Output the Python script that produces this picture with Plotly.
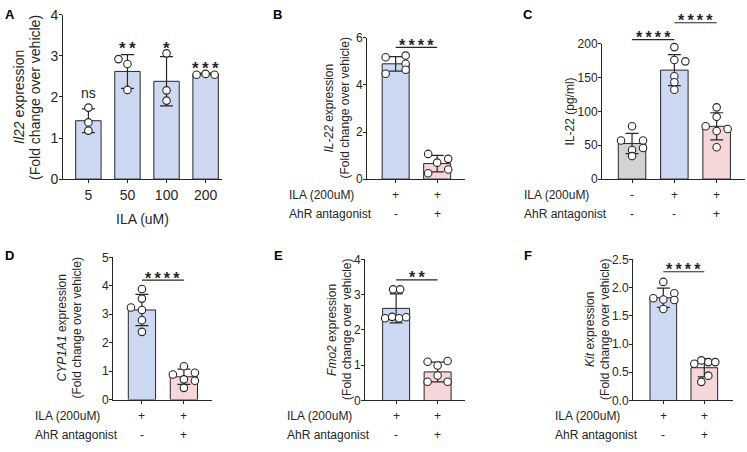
import plotly.graph_objects as go

W, H = 747, 452
FONT = "Liberation Sans, Arial, Helvetica, sans-serif"
INK = "#262626"
BLUE = "#cdd9f3"
PINK = "#f7d6da"
GREY = "#d3d3d3"

# ---------------- data ----------------
A_doses = ["5", "50", "100", "200"]
A_mean = [1.42, 2.62, 2.38, 2.56]
A_sd = [0.29, 0.41, 0.60, 0.02]
A_pts = [[1.74, 1.38, 1.18], [2.92, 2.80, 2.17], [3.06, 2.16, 1.91], [2.54, 2.56, 2.54]]
A_sig = ["ns", "**", "*", "***"]

B_mean = [4.90, 0.66]
B_sd = [0.31, 0.35]
B_pts = [[5.18, 5.25, 4.90, 4.48, 4.65], [1.07, 0.70, 0.86, 0.25, 0.41]]

C_mean = [52.5, 161.0, 78.0]
C_sd = [15.0, 23.0, 20.0]
C_pts = [[78, 57, 57, 46, 43, 34], [195, 176, 174, 152, 143, 132], [106, 92, 78, 74, 71, 47]]

D_mean = [3.15, 0.80]
D_sd = [0.55, 0.27]
D_pts = [[3.24, 3.89, 3.55, 3.15, 2.79, 2.38], [0.88, 1.17, 0.94, 0.71, 0.66, 0.41]]

E_mean = [2.61, 0.81]
E_sd = [0.41, 0.28]
E_pts = [[3.15, 3.15, 2.33, 2.37, 2.33, 2.36], [1.10, 0.99, 1.12, 0.53, 0.71, 0.53]]

F_mean = [1.82, 0.58]
F_sd = [0.17, 0.16]
F_pts = [[2.10, 1.81, 1.79, 1.90, 1.62, 1.78], [0.65, 0.71, 0.68, 0.68, 0.44, 0.33]]

ILA_2 = ["+", "+"]
AhR_2 = ["-", "+"]
ILA_3 = ["-", "+", "+"]
AhR_3 = ["-", "-", "+"]
SIG4 = "****"
SIG2 = "**"

# ---------------- layout/style config ----------------
# horizontal jitter of the dots, in pixels
A_jit = [[0, 0, 0], [-9, 0, 0], [0, 0, 0], [-9, 0, 9]]
B_jit = [[-10, 10, 10, -10, 10], [-9, 0, 11, -9, 11]]
C_jit = [[0, -11, 11, 11, 0, 0], [0, 0, 11, 0, 0, 0], [0, 0, -11, 11, 0, 0]]
D_jit = [[-11, 0, 0, 0, 0, 0], [-11, 0, 11, 0, 11, 0]]
E_jit = [[-3, 4, -11, -4, 3, 10], [-10, 0, 10, -10, 0, 10]]
F_jit = [[0, -10, 0, 11, 0, 11], [-10, -3, 4, 11, 4, -3]]

fig = go.Figure()
annotations = []
shapes = []


def stars(s):
    # spread the asterisks a little, like the GraphPad glyphs
    return "\u2009".join(list(s)) if s != "ns" else s


def pxdom_x(x0, x1):
    return [x0 / W, x1 / W]


def pxdom_y(top, bottom):
    return [1 - bottom / H, 1 - top / H]


def add_panel(i, means, sds, pts, colors, jit, xpx, ypx, xr, ymax, yticks, yfmt, tfs,
              show_xlabels=None):
    key = "" if i == 1 else str(i)
    xa, ya = "x" + key, "y" + key
    n = len(means)
    cats = list(range(n))
    ppc = (xpx[1] - xpx[0]) / (xr[1] - xr[0])
    fig.add_trace(go.Bar(
        x=cats, y=means, width=0.65,
        marker=dict(color=colors, line=dict(color=INK, width=1)),
        error_y=dict(type="data", array=sds, visible=True, color=INK, thickness=1.2, width=6.5),
        xaxis=xa, yaxis=ya, showlegend=False, hoverinfo="skip"))
    for c in cats:
        xs = [c + j / ppc for j in jit[c]]
        fig.add_trace(go.Scatter(
            x=xs, y=pts[c], mode="markers", cliponaxis=False,
            marker=dict(symbol="circle", size=7.5, color="white", line=dict(color=INK, width=1.1)),
            xaxis=xa, yaxis=ya, showlegend=False, hoverinfo="skip"))
    xaxis = dict(domain=pxdom_x(*xpx), range=list(xr), anchor=ya, tickvals=cats,
                 ticks="outside", ticklen=3, tickwidth=1, tickcolor=INK,
                 showline=True, linecolor=INK, linewidth=1, showgrid=False, zeroline=False,
                 showticklabels=show_xlabels is not None, fixedrange=True)
    if show_xlabels is not None:
        xaxis.update(ticktext=show_xlabels, tickfont=dict(family=FONT, size=tfs, color=INK))
    yaxis = dict(domain=pxdom_y(*ypx), range=[0, ymax], anchor=xa, tickvals=yticks,
                 ticktext=[yfmt.format(v) for v in yticks],
                 ticks="outside", ticklen=3, tickwidth=1, tickcolor=INK,
                 ticklabelstandoff=-2,
                 tickfont=dict(family=FONT, size=tfs, color=INK),
                 showline=True, linecolor=INK, linewidth=1, showgrid=False, zeroline=False,
                 fixedrange=True)
    fig.update_layout(**{"xaxis" + key: xaxis, "yaxis" + key: yaxis})


def ytitle(i, lines, shifts, size=12):
    key = "" if i == 1 else str(i)
    for text, s in zip(lines, shifts):
        annotations.append(dict(text=text, xref="x" + key + " domain", yref="y" + key + " domain",
                                x=0, y=0.5, xshift=s, textangle=-90, showarrow=False,
                                xanchor="center", yanchor="middle",
                                font=dict(family=FONT, size=size, color=INK)))


def rows(i, n, ila, ahr):
    key = "" if i == 1 else str(i)
    for label, vals, sh in (("ILA (200uM)", ila, -16), ("AhR antagonist", ahr, -35)):
        annotations.append(dict(text=label, xref="x" + key + " domain", yref="y" + key + " domain",
                                x=0, y=0, xshift=-80, yshift=sh, showarrow=False,
                                xanchor="left", yanchor="middle",
                                font=dict(family=FONT, size=12, color=INK)))
        for c in range(n):
            annotations.append(dict(text=vals[c], xref="x" + key, yref="y" + key + " domain",
                                    x=c, y=0, yshift=sh, showarrow=False,
                                    xanchor="center", yanchor="middle",
                                    font=dict(family=FONT, size=12, color=INK)))


def sig(i, c0, c1, yval, text, xr, ymax, size=16):
    key = "" if i == 1 else str(i)
    fx = lambda c: (c - xr[0]) / (xr[1] - xr[0])
    shapes.append(dict(type="line", xref="x" + key + " domain", yref="y" + key + " domain",
                       x0=fx(c0), x1=fx(c1), y0=yval / ymax, y1=yval / ymax,
                       line=dict(color=INK, width=1.2)))
    annotations.append(dict(text="<b>" + stars(text) + "</b>", xref="x" + key,
                            yref="y" + key + " domain",
                            x=(c0 + c1) / 2, y=yval / ymax, yshift=2, showarrow=False,
                            xanchor="center", yanchor="middle",
                            font=dict(family=FONT, size=size, color=INK)))


def letter(t, xpx, ypx):
    annotations.append(dict(text="<b>" + t + "</b>", xref="paper", yref="paper",
                            x=xpx / W, y=1 - ypx / H, xanchor="left", yanchor="middle",
                            showarrow=False, font=dict(family=FONT, size=13, color="#000")))


# ---- Panel A ----
add_panel(1, A_mean, A_sd, A_pts, [BLUE] * 4, A_jit, (63, 222), (8, 178),
          (-0.65, 3.42), 4, [0, 1, 2, 3, 4], "{:g}", 14, show_xlabels=A_doses)
ytitle(1, ["<i>Il22</i> expression", "(Fold change over vehicle)"], [-44, -28], size=14)
annotations.append(dict(text="ILA (uM)", xref="x domain", yref="y domain", x=0.5, y=0,
                        yshift=-40, showarrow=False, xanchor="center", yanchor="middle",
                        font=dict(family=FONT, size=14, color=INK)))
A_sig_shift = [16, 6, 8, 5]
for c in range(4):
    ns = A_sig[c] == "ns"
    txt = A_sig[c] if ns else "<b>" + stars(A_sig[c]) + "</b>"
    annotations.append(dict(text=txt, xref="x", yref="y", x=c, y=A_mean[c] + A_sd[c],
                            yshift=A_sig_shift[c], showarrow=False, xanchor="center",
                            yanchor="middle",
                            font=dict(family=FONT, size=14 if ns else 17, color=INK)))

# ---- Panel B ----
xrB = (-0.69, 1.67)
add_panel(2, B_mean, B_sd, B_pts, [BLUE, PINK], B_jit, (367, 465), (32, 178), xrB, 6,
          [0, 2, 4, 6], "{:g}", 12)
ytitle(2, ["<i>IL-22</i> expression", "(Fold change over vehicle)"], [-38, -22])
rows(2, 2, ILA_2, AhR_2)
sig(2, 0, 1, 5.6, SIG4, xrB, 6)

# ---- Panel C ----
xrC = (-0.71, 2.67)
add_panel(3, C_mean, C_sd, C_pts, [GREY, BLUE, PINK], C_jit, (602, 745), (38, 178), xrC, 200,
          [0, 50, 100, 150, 200], "{:g}", 12)
ytitle(3, ["IL-22 (pg/ml)"], [-32])
rows(3, 3, ILA_3, AhR_3)
sig(3, 0, 1, 206, SIG4, xrC, 200)
sig(3, 1, 2, 231, SIG4, xrC, 200)

# ---- Panel D ----
xrD = (-0.69, 1.67)
add_panel(4, D_mean, D_sd, D_pts, [BLUE, PINK], D_jit, (113, 212), (259, 406), xrD, 5,
          [0, 1, 2, 3, 4, 5], "{:g}", 12)
ytitle(4, ["<i>CYP1A1</i> expression", "(Fold change over vehicle)"], [-51, -36])
rows(4, 2, ILA_2, AhR_2)
sig(4, 0, 1, 4.2, SIG4, xrD, 5)

# ---- Panel E ----
xrE = (-0.75, 1.66)
add_panel(5, E_mean, E_sd, E_pts, [BLUE, PINK], E_jit, (365, 465), (261, 407), xrE, 4,
          [0, 1, 2, 3, 4], "{:g}", 12)
ytitle(5, ["<i>Fmo2</i> expression", "(Fold change over vehicle)"], [-33, -18])
rows(5, 2, ILA_2, AhR_2)
sig(5, 0, 1, 3.42, SIG2, xrE, 4)

# ---- Panel F ----
xrF = (-0.74, 1.70)
add_panel(6, F_mean, F_sd, F_pts, [BLUE, PINK], F_jit, (633, 733), (261, 407), xrF, 2.5,
          [0, 0.5, 1.0, 1.5, 2.0, 2.5], "{:.1f}", 12)
ytitle(6, ["<i>Kit</i> expression", "(Fold change over vehicle)"], [-43, -28])
rows(6, 2, ILA_2, AhR_2)
sig(6, 0, 1, 2.28, SIG4, xrF, 2.5)

for t, x, y in (("A", 3, 8), ("B", 271, 8), ("C", 521, 8), ("D", 3, 257), ("E", 272, 257), ("F", 522, 257)):
    letter(t, x, y)

fig.update_layout(width=W, height=H, margin=dict(l=0, r=0, t=0, b=0),
                  paper_bgcolor="white", plot_bgcolor="white", bargap=0,
                  annotations=annotations, shapes=shapes, showlegend=False,
                  font=dict(family=FONT, size=12, color=INK))

fig.write_html("out.html", config={"displayModeBar": False, "staticPlot": True},
               post_script="document.body.style.margin='0';document.body.style.overflow='hidden';")
